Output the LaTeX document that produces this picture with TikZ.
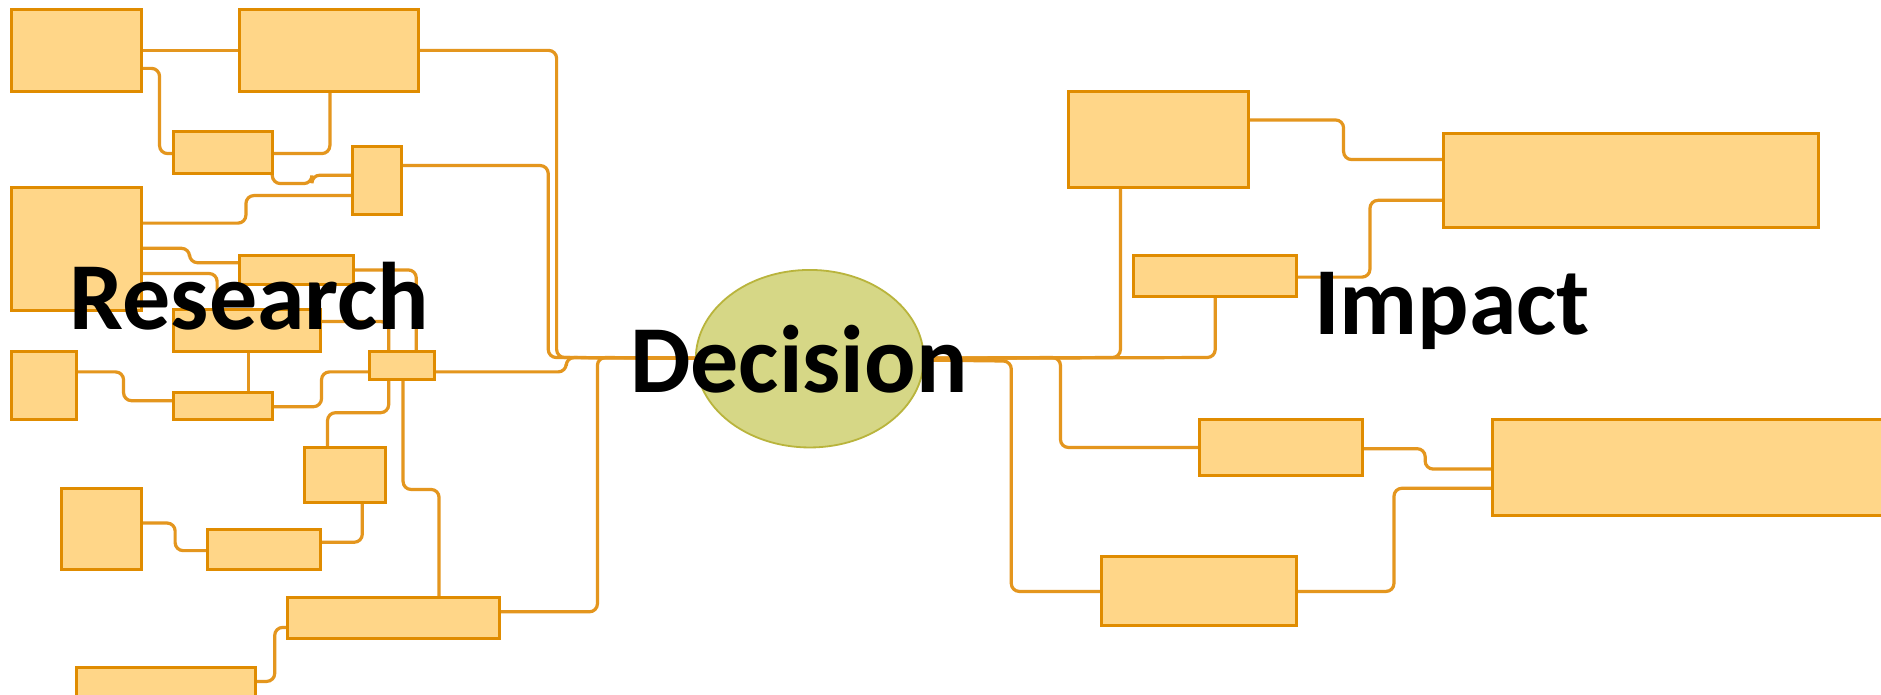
\documentclass[tikz,border=0pt]{standalone}
\usepackage{fontspec}
\setmainfont{Carlito}
\usetikzlibrary{shapes.geometric}
\pgfdeclarelayer{back}
\pgfdeclarelayer{bg}
\pgfsetlayers{back,bg,main}
\definecolor{boxfill}{RGB}{255,214,136}
\definecolor{boxline}{RGB}{224,140,0}
\definecolor{connline}{RGB}{228,150,30}
\definecolor{decfill}{RGB}{214,215,134}
\definecolor{decline}{RGB}{185,180,60}
\tikzset{
  box/.style={draw=boxline, fill=boxfill, line width=1.5pt, inner sep=0pt, outer sep=0pt},
  conn/.style={draw=connline, line width=1.6pt, rounded corners=4pt},
  big/.style={font=\fontsize{48}{52}\selectfont\bfseries, inner sep=0pt, anchor=base west, text=black},
}
\newcommand\bx[5]{\node[box, minimum width={(#4-#2)*0.6pt}, minimum height={(#5-#3)*0.6pt}] (#1) at ({(#2+#4)/2},{(#3+#5)/2}) {};}
\begin{document}
\begin{tikzpicture}[x=0.6pt,y=-0.6pt]
\begin{pgfonlayer}{back}
\fill[white] (0,0) rectangle (1568,579);
\end{pgfonlayer}
\useasboundingbox (0,0) rectangle (1568,579);
% left boxes
\bx{A}{10}{8}{118}{76}
\bx{B}{200}{8}{349}{76}
\bx{C}{145}{110}{227}{145}
\bx{D}{294}{122}{335}{179}
\bx{E}{10}{156}{118}{259}
\bx{F}{200}{213}{295}{237}
\bx{G}{145}{258}{267}{293}
\bx{H}{308}{293}{362}{316}
\bx{I}{10}{293}{64}{350}
\bx{J}{145}{327}{227}{350}
\bx{K}{254}{373}{321}{419}
\bx{L}{51}{407}{118}{475}
\bx{M}{173}{441}{267}{475}
\bx{N}{240}{498}{416}{532}
\bx{O}{64}{556}{213}{590}
% right boxes
\bx{P}{891}{76}{1041}{156}
\bx{Q}{1203}{111}{1516}{190}
\bx{R}{945}{213}{1081}{247}
\bx{S}{1000}{350}{1136}{396}
\bx{T}{1244}{350}{1580}{430}
\bx{U}{918}{464}{1081}{521}
% decision
\node[ellipse, draw=decline, fill=decfill, line width=0.9pt, minimum width={190*0.6pt}, minimum height={148*0.6pt}, inner sep=0pt] (dec) at (675,299) {};
\begin{pgfonlayer}{bg}
\draw[conn] (A.east |- 0,42) -- (B.west |- 0,42);
\draw[conn] (A.east |- 0,57) -- (133,57) -- (133,128) -- (C.west |- 0,128);
\draw[conn] (B.south -| 275,0) -- (275,128) -- (C.east |- 0,128);
\draw[conn] (C.south east) -- (227,153) -- (260,153) -- (260,146) -- (D.west |- 0,146);
\draw[conn] (E.east |- 0,186) -- (205,186) -- (205,163) -- (D.west |- 0,163);
\draw[conn] (D.east |- 0,138) -- (457,138) -- (457,298) -- (dec.center);
\draw[conn] (B.east |- 0,42) -- (464,42) -- (464,298) -- (dec.center);
\draw[conn] (H.east |- 0,310) -- (472,310) -- (472,298) -- (dec.center);
\draw[conn] (N.east |- 0,510) -- (498,510) -- (498,298) -- (dec.center);
\draw[conn] (E.east |- 0,207) -- (158,207) -- (158,219) -- (F.west |- 0,219);
\draw[conn] (E.east |- 0,228) -- (181,228) -- (G.north -| 181,0);
\draw[conn] (F.east |- 0,225) -- (347,225) -- (H.north -| 347,0);
\draw[conn] (G.east |- 0,268) -- (324,268) -- (H.north -| 324,0);
\draw[conn] (G.south -| 207,0) -- (J.north -| 207,0);
\draw[conn] (I.east |- 0,310) -- (103,310) -- (103,334) -- (J.west |- 0,334);
\draw[conn] (J.east |- 0,339) -- (268,339) -- (268,310) -- (H.west |- 0,310);
\draw[conn] (H.south -| 324,0) -- (324,344) -- (273,344) -- (K.north -| 273,0);
\draw[conn] (H.south -| 336,0) -- (336,408) -- (366,408) -- (N.north -| 366,0);
\draw[conn] (K.south -| 302,0) -- (302,452) -- (M.east |- 0,452);
\draw[conn] (L.east |- 0,436) -- (146,436) -- (146,459) -- (M.west |- 0,459);
\draw[conn] (O.east |- 0,568) -- (229,568) -- (229,523) -- (N.west |- 0,523);
% right
\draw[conn] (dec.center) -- (934,298) -- (P.south -| 934,0);
\draw[conn] (R.south -| 1013,0) -- (1013,298) -- (dec.center);
\draw[conn] (P.east |- 0,100) -- (1120,100) -- (1120,133) -- (Q.west |- 0,133);
\draw[conn] (R.east |- 0,231) -- (1142,231) -- (1142,167) -- (Q.west |- 0,167);
\draw[conn] (dec.center) -- (843,301) -- (843,493) -- (U.west |- 0,493);
\draw[conn] (dec.center) -- (884,298) -- (884,373) -- (S.west |- 0,373);
\draw[conn] (S.east |- 0,374) -- (1188,374) -- (1188,391) -- (T.west |- 0,391);
\draw[conn] (U.east |- 0,493) -- (1162,493) -- (1162,407) -- (T.west |- 0,407);
\end{pgfonlayer}
% labels
\node[big] (research) at (58,275) {Research};
\node[big] (decision) at (525,327) {Decision};
\node[big] (impact) at (1095,279) {Impact};
\end{tikzpicture}
\end{document}
